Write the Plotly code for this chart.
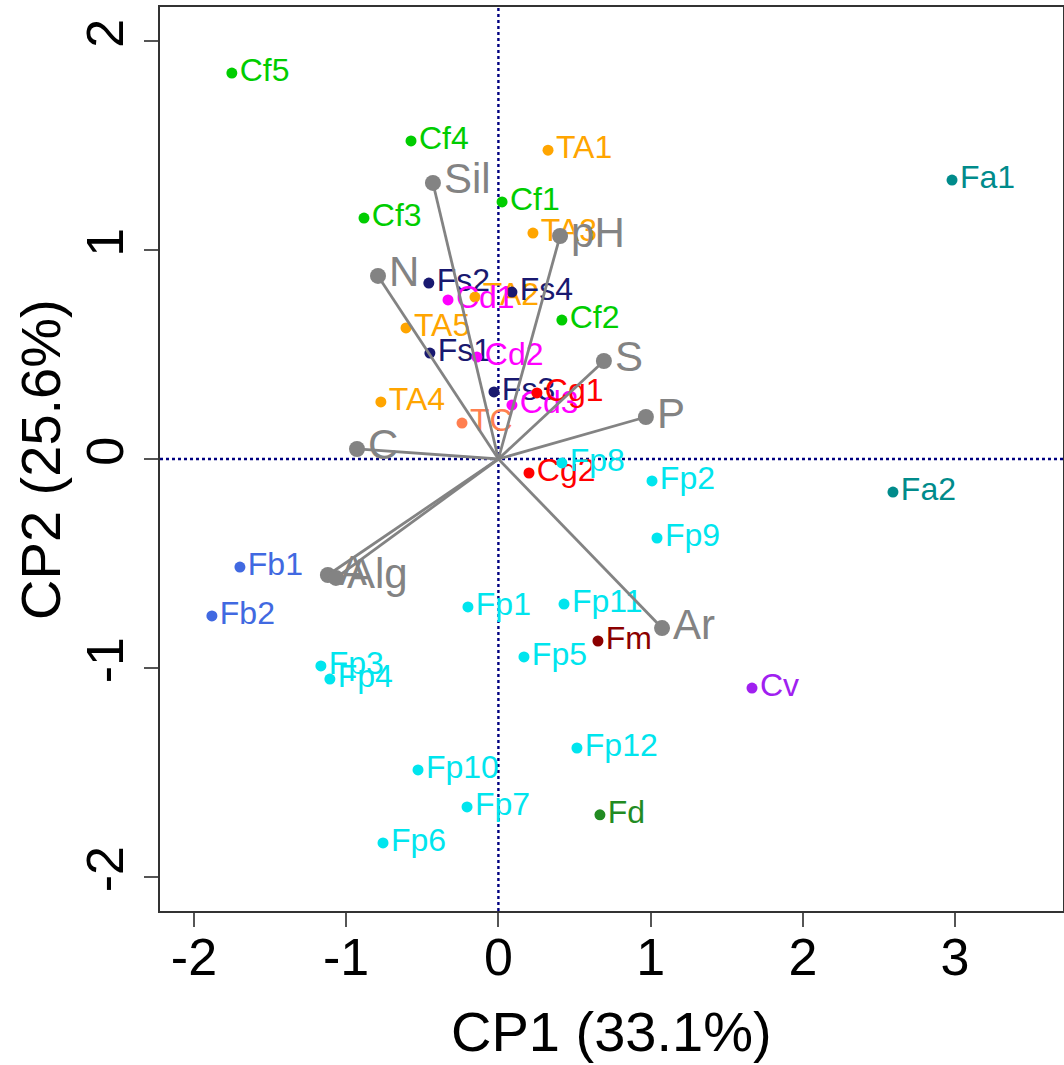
import plotly.graph_objects as go

# ---- sample scores (CP1, CP2) by group ----
groups = ["Cf", "TA", "TC", "Fs", "Cd", "Cg", "Fp", "Fa", "Fb", "Fm", "Cv", "Fd"]
colors = {"Cf": "#00CD00", "TA": "#FFA500", "TC": "#FF7F50", "Fs": "#191970",
          "Cd": "#FF00FF", "Cg": "#FF0000", "Fp": "#00E5EE", "Fa": "#008B8B",
          "Fb": "#4169E1", "Fm": "#8B0000", "Cv": "#A020F0", "Fd": "#228B22"}

sample_names = ["Cf5", "Cf4", "Cf3", "Cf1", "Cf2",
                "TA1", "TA3", "TA2", "TA5", "TA4",
                "TC",
                "Fs2", "Fs4", "Fs1", "Fs3",
                "Cd1", "Cd2", "Cd3",
                "Cg1", "Cg2",
                "Fp8", "Fp2", "Fp9", "Fp1", "Fp11", "Fp5", "Fp3", "Fp4", "Fp12", "Fp10", "Fp7", "Fp6",
                "Fa1", "Fa2",
                "Fb1", "Fb2",
                "Fm", "Cv", "Fd"]
sample_group = ["Cf"] * 5 + ["TA"] * 5 + ["TC"] + ["Fs"] * 4 + ["Cd"] * 3 + ["Cg"] * 2 + \
               ["Fp"] * 12 + ["Fa"] * 2 + ["Fb"] * 2 + ["Fm", "Cv", "Fd"]
cp1 = [-1.751, -0.574, -0.883, 0.024, 0.417,
       0.326, 0.227, -0.154, -0.607, -0.772,
       -0.239,
       -0.457, 0.089, -0.450, -0.029,
       -0.331, -0.141, 0.089,
       0.253, 0.201,
       0.417, 1.009, 1.042, -0.200, 0.431, 0.168, -1.166, -1.107, 0.516, -0.528, -0.206, -0.758,
       2.980, 2.592,
       -1.698, -1.882,
       0.654, 1.666, 0.667]
cp2 = [1.847, 1.522, 1.153, 1.230, 0.665,
       1.478, 1.081, 0.775, 0.627, 0.273,
       0.172,
       0.842, 0.799, 0.507, 0.321,
       0.761, 0.488, 0.258,
       0.316, -0.067,
       -0.019, -0.105, -0.378, -0.708, -0.694, -0.947, -0.990, -1.053, -1.383, -1.488, -1.665, -1.837,
       1.335, -0.158,
       -0.517, -0.751,
       -0.871, -1.096, -1.703]

# ---- variable loadings ----
var_names = ["Sil", "pH", "N", "S", "P", "C", "A", "Alg", "Ar"]
var_cp1 = [-0.430, 0.405, -0.791, 0.693, 0.969, -0.929, -1.120, -1.067, 1.075]
var_cp2 = [1.321, 1.067, 0.876, 0.469, 0.201, 0.048, -0.555, -0.569, -0.809]

x_ticks = [-2, -1, 0, 1, 2, 3]
y_ticks = [-2, -1, 0, 1, 2]

FONT = "Liberation Sans, Arial, Helvetica, sans-serif"
GRAY = "#838383"
NAVY = "#000080"

fig = go.Figure()

# reference dotted lines through origin
fig.add_shape(type="line", x0=0, x1=0, y0=0, y1=1, xref="x", yref="paper",
              line=dict(color=NAVY, width=2.4, dash="dot"), layer="below")
fig.add_shape(type="line", x0=0, x1=1, y0=0, y1=0, xref="paper", yref="y",
              line=dict(color=NAVY, width=2.4, dash="dot"), layer="below")

# sample points
for g in groups:
    idx = [i for i, s in enumerate(sample_group) if s == g]
    fig.add_trace(go.Scatter(
        x=[cp1[i] for i in idx], y=[cp2[i] for i in idx],
        text=[sample_names[i] for i in idx],
        mode="markers+text", textposition="middle right",
        marker=dict(color=colors[g], size=11),
        textfont=dict(color=colors[g], size=32, family=FONT),
        showlegend=False, cliponaxis=False))

# variable vectors
for vx, vy in zip(var_cp1, var_cp2):
    fig.add_trace(go.Scatter(x=[0, vx], y=[0, vy], mode="lines",
                             line=dict(color=GRAY, width=2.8), showlegend=False))
fig.add_trace(go.Scatter(
    x=var_cp1, y=var_cp2, text=var_names, mode="markers+text",
    textposition="middle right",
    marker=dict(color=GRAY, size=16),
    textfont=dict(color=GRAY, size=42, family=FONT),
    showlegend=False, cliponaxis=False))

axis_common = dict(showgrid=False, zeroline=False, showline=True, mirror=True,
                   linecolor="#333333", linewidth=1.5, ticks="outside", ticklen=14,
                   tickwidth=1.5, tickcolor="#555555", automargin=False,
                   tickfont=dict(size=52, family=FONT, color="black"))

fig.update_xaxes(range=[-2.223, 3.709], tickvals=x_ticks, ticktext=[str(v) for v in x_ticks],
                 ticklabelstandoff=-14, **axis_common)
fig.update_yaxes(range=[-2.163, 2.163], tickvals=y_ticks, ticktext=[str(v) for v in y_ticks],
                 tickangle=-90, ticklabelstandoff=0, **axis_common)

fig.add_annotation(text="CP1 (33.1%)", xref="paper", yref="paper", x=0.5, y=-0.133,
                   xanchor="center", yanchor="middle", showarrow=False,
                   font=dict(size=56, family=FONT, color="black"))
fig.add_annotation(text="CP2 (25.6%)", xref="paper", yref="paper", x=-0.133, y=0.5,
                   xanchor="center", yanchor="middle", showarrow=False, textangle=-90,
                   font=dict(size=56, family=FONT, color="black"))

fig.update_layout(width=1064, height=1065, plot_bgcolor="white", paper_bgcolor="white",
                  margin=dict(l=160, r=1, t=7, b=154), font=dict(family=FONT))

fig.write_html("out.html", config={"displayModeBar": False},
               post_script="document.body.style.margin='0';document.body.style.overflow='hidden';")
